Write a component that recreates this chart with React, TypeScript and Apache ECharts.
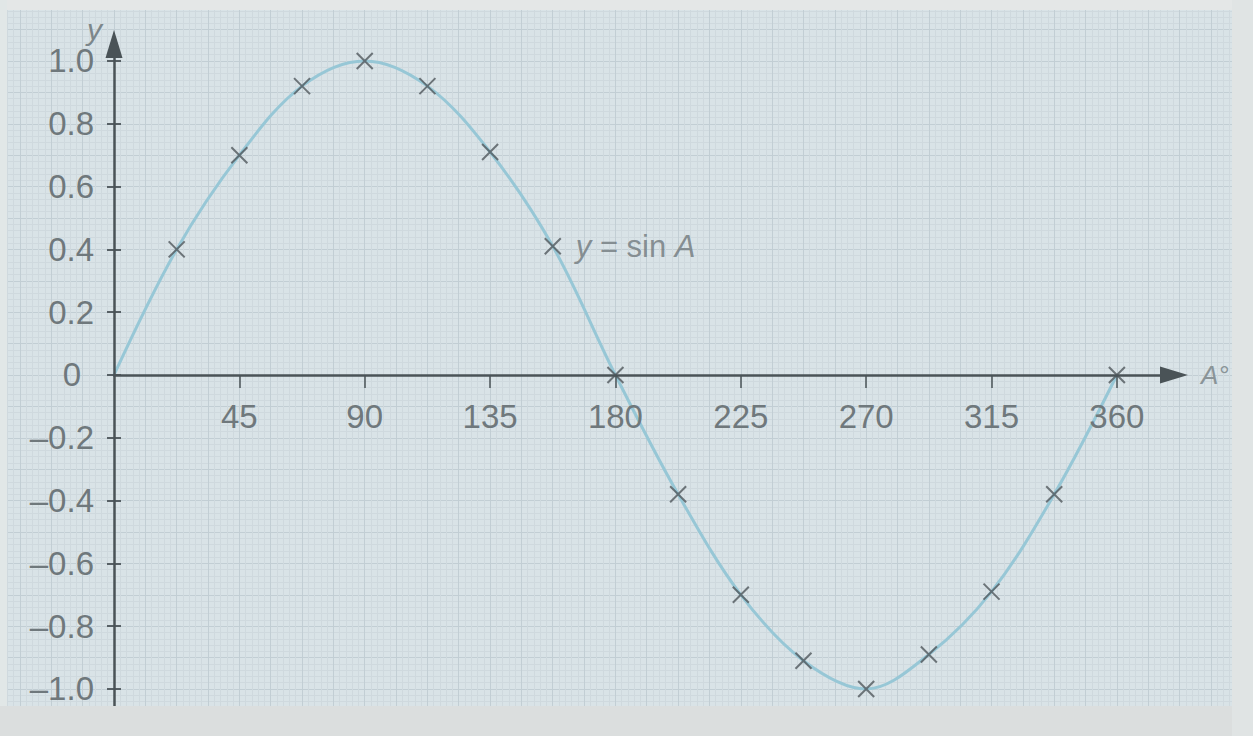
import React, { useEffect, useRef } from 'react';
import * as echarts from 'echarts';

const ANGLES = [22.5, 45, 67.5, 90, 112.5, 135, 157.5, 180, 202.5, 225, 247.5, 270, 292.5, 315, 337.5, 360];
const SIN_A = [0.4, 0.7, 0.92, 1.0, 0.92, 0.71, 0.41, 0, -0.38, -0.7, -0.91, -1.0, -0.89, -0.69, -0.38, 0];
// The curve starts at the origin (no cross drawn there)
const CURVE_START = [0, 0];

const X_TICKS = [45, 90, 135, 180, 225, 270, 315, 360];
const Y_TICKS = [-1, -0.8, -0.6, -0.4, -0.2, 0, 0.2, 0.4, 0.6, 0.8, 1];
const Y_TICK_LABELS = ['–1.0', '–0.8', '–0.6', '–0.4', '–0.2', '0', '0.2', '0.4', '0.6', '0.8', '1.0'];
const LABELLED_POINT = 6;
const X_NAME = 'A°';
const Y_NAME = 'y';

const Y_MIN = -1.0669;
const Y_MAX = 1.0541;

const FONT = '"Liberation Sans", Arial, Helvetica, sans-serif';
const AXIS_COLOR = '#4a5357';
const TEXT_COLOR = '#6f787c';
const PAPER_MAJOR = '#c2ced4';
const PAPER_MINOR = '#cfd9de';
const PAPER_COLORS = [PAPER_MAJOR, PAPER_MINOR, PAPER_MINOR, PAPER_MINOR, PAPER_MINOR];

export default function App() {
  const ref = useRef<HTMLDivElement>(null);

  useEffect(() => {
    if (!ref.current) return;
    const chart = echarts.init(ref.current, null, { renderer: 'svg' });

    const points = ANGLES.map((a, i) => [a, SIN_A[i]]);
    const curve = [CURVE_START, ...points];

    const scatterData = points.map((p, i) =>
      i === LABELLED_POINT
        ? {
            value: p,
            label: {
              show: true,
              position: 'right',
              distance: 14,
              formatter: '{i|y} = sin {i|A}',
              fontFamily: FONT,
              fontSize: 31,
              color: TEXT_COLOR,
              rich: {
                i: { fontStyle: 'italic', fontSize: 31, color: TEXT_COLOR, fontFamily: FONT },
              },
            },
          }
        : p
    );

    const yLabel = (v: number) => {
      const idx = Y_TICKS.findIndex((t) => Math.abs(t - v) < 1e-6);
      if (idx < 0) return '';
      if (Y_TICKS[idx] === 0) return '{z|' + Y_TICK_LABELS[idx] + '}';
      return Y_TICK_LABELS[idx];
    };

    const gridTop = 44;
    const gridBottom = 26;
    const plotH = 736 - gridTop - gridBottom;
    // distance from the grid's bottom edge up to the zero line
    const zeroOffset = -(plotH * (0 - Y_MIN)) / (Y_MAX - Y_MIN);

    const option: any = {
      animation: false,
      backgroundColor: '#d9e3e7',
      textStyle: { fontFamily: FONT },
      grid: [
        { left: 114, right: 79, top: gridTop, bottom: gridBottom, outerBoundsMode: 'none', containLabel: false },
        { left: -11.4, width: 1253.6, top: -1.8, height: 722.2, outerBoundsMode: 'none', containLabel: false },
      ],
      xAxis: [
        {
          type: 'value',
          gridIndex: 0,
          position: 'bottom',
          offset: zeroOffset,
          min: 0,
          max: 380.5,
          z: 5,
          axisLine: {
            show: true,
            onZero: false,
            symbol: ['none', 'triangle'],
            symbolSize: [17, 28],
            lineStyle: { color: AXIS_COLOR, width: 2.5 },
          },
          axisTick: {
            show: true,
            customValues: X_TICKS,
            length: 13,
            lineStyle: { color: AXIS_COLOR, width: 1.5 },
          },
          axisLabel: {
            show: true,
            customValues: X_TICKS,
            margin: 25,
            fontSize: 33,
            color: TEXT_COLOR,
            fontFamily: FONT,
          },
          splitLine: { show: false },
          name: X_NAME,
          nameLocation: 'end',
          nameGap: 27,
          nameTextStyle: {
            align: 'left',
            verticalAlign: 'middle',
            fontStyle: 'italic',
            fontSize: 26,
            color: '#8a9498',
            fontFamily: FONT,
          },
        },
        {
          type: 'value',
          gridIndex: 1,
          min: -20,
          max: 180,
          interval: 1,
          z: 0,
          axisLine: { show: false },
          axisTick: { show: false },
          axisLabel: { show: false },
          splitLine: { show: true, lineStyle: { color: PAPER_COLORS, width: 1 } },
        },
      ],
      yAxis: [
        {
          type: 'value',
          gridIndex: 0,
          min: Y_MIN,
          max: Y_MAX,
          z: 5,
          axisLine: {
            show: true,
            onZero: false,
            symbol: ['none', 'triangle'],
            symbolSize: [17, 28],
            lineStyle: { color: AXIS_COLOR, width: 2.5 },
          },
          axisTick: {
            show: true,
            customValues: Y_TICKS,
            length: 7,
            lineStyle: { color: AXIS_COLOR, width: 1.8 },
          },
          axisLabel: {
            show: true,
            customValues: Y_TICKS,
            margin: 20,
            fontSize: 33,
            color: TEXT_COLOR,
            fontFamily: FONT,
            formatter: yLabel,
            rich: {
              z: { padding: [0, 13, 0, 0], fontSize: 33, color: TEXT_COLOR, fontFamily: FONT },
            },
          },
          splitLine: { show: false },
          name: Y_NAME,
          nameLocation: 'end',
          nameGap: 8,
          nameTextStyle: {
            align: 'right',
            verticalAlign: 'middle',
            padding: [0, 12, 0, 0],
            fontStyle: 'italic',
            fontSize: 30,
            color: '#7d878b',
            fontFamily: FONT,
          },
        },
        {
          type: 'value',
          gridIndex: 0,
          position: 'left',
          min: Y_MIN,
          max: Y_MAX,
          z: 5,
          axisLine: { show: false, onZero: false },
          axisTick: {
            show: true,
            inside: true,
            customValues: Y_TICKS,
            length: 7,
            lineStyle: { color: AXIS_COLOR, width: 1.8 },
          },
          axisLabel: { show: false },
          splitLine: { show: false },
        },
        {
          type: 'value',
          gridIndex: 1,
          min: -55,
          max: 60,
          interval: 1,
          z: 0,
          axisLine: { show: false },
          axisTick: { show: false },
          axisLabel: { show: false },
          splitLine: { show: true, lineStyle: { color: PAPER_COLORS, width: 1 } },
        },
      ],
      series: [
        {
          type: 'line',
          xAxisIndex: 0,
          yAxisIndex: 0,
          data: curve,
          smooth: 0.35,
          showSymbol: false,
          symbol: 'none',
          lineStyle: { color: '#97c7d6', width: 3 },
          z: 3,
        },
        {
          type: 'scatter',
          xAxisIndex: 0,
          yAxisIndex: 0,
          data: scatterData,
          symbol: 'path://M0 0L10 10M10 0L0 10',
          symbolSize: 16,
          itemStyle: { color: 'transparent', borderColor: '#50585c', borderWidth: 2 },
          z: 4,
        },
      ],
      graphic: [
        { type: 'rect', z: 100, shape: { x: 0, y: 0, width: 1253, height: 10 }, style: { fill: '#e4e7e7' } },
        { type: 'rect', z: 100, shape: { x: 0, y: 0, width: 7, height: 736 }, style: { fill: '#e1e7e7' } },
        { type: 'rect', z: 100, shape: { x: 0, y: 706, width: 1253, height: 30 }, style: { fill: '#dbdede' } },
        { type: 'rect', z: 100, shape: { x: 1232, y: 0, width: 21, height: 736 }, style: { fill: '#e0e4e4' } },
      ],
    };

    chart.setOption(option);
    return () => chart.dispose();
  }, []);

  return (
    <div
      ref={ref}
      style={{ position: 'absolute', left: 0, top: 0, width: 1253, height: 736 }}
    />
  );
}
